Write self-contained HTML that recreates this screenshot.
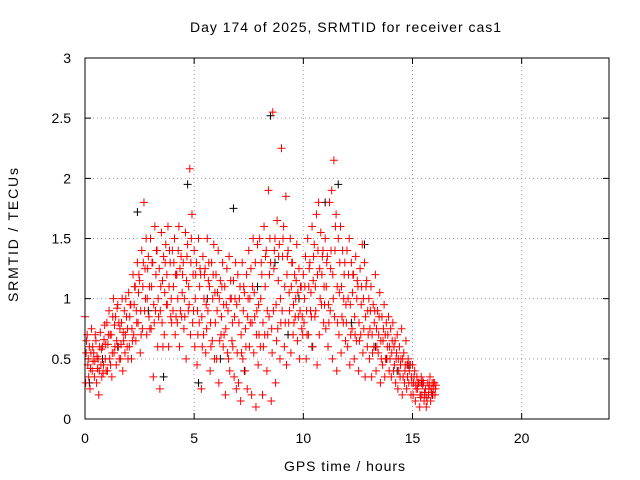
<!DOCTYPE html>
<html><head><meta charset="utf-8"><style>
html,body{margin:0;padding:0;background:#fff;}
svg{display:block;font-family:"Liberation Sans",Arial,sans-serif;}
</style></head><body>
<svg id="chart" width="640" height="480" viewBox="0 0 640 480">
<rect x="0" y="0" width="640" height="480" fill="#fff"/>
<text x="190" y="32" font-size="14" textLength="311" lengthAdjust="spacing">Day 174 of 2025, SRMTID for receiver cas1</text>
<text x="284" y="471" font-size="14" textLength="121" lengthAdjust="spacing">GPS time / hours</text>
<text transform="translate(18,302) rotate(-90)" font-size="14" textLength="134" lengthAdjust="spacing">SRMTID / TECUs</text>
<g id="grid"></g>
<g id="ticks"></g>
<g id="marks"></g>
<rect x="85" y="58" width="524" height="361" fill="none" stroke="#000" stroke-width="1"/>
</svg>
<script>
const xTicks = [0, 5, 10, 15, 20];
const yTicks = [0, 0.5, 1, 1.5, 2, 2.5, 3];
const yTickLabels = ["0", "0.5", "1", "1.5", "2", "2.5", "3"];
const times = [0,0.1,0.2,0.3,0.4,0.5,0.6,0.7,0.8,0.9,1,1.1,1.2,1.3,1.4,1.5,1.6,1.7,1.8,1.9,2,2.1,2.2,2.3,2.4,2.5,2.6,2.7,2.8,2.9,3,3.1,3.2,3.3,3.4,3.5,3.6,3.7,3.8,3.9,4,4.1,4.2,4.3,4.4,4.5,4.6,4.7,4.8,4.9,5,5.1,5.2,5.3,5.4,5.5,5.6,5.7,5.8,5.9,6,6.1,6.2,6.3,6.4,6.5,6.6,6.7,6.8,6.9,7,7.1,7.2,7.3,7.4,7.5,7.6,7.7,7.8,7.9,8,8.1,8.2,8.3,8.4,8.5,8.6,8.7,8.8,8.9,9,9.1,9.2,9.3,9.4,9.5,9.6,9.7,9.8,9.9,10,10.1,10.2,10.3,10.4,10.5,10.6,10.7,10.8,10.9,11,11.1,11.2,11.3,11.4,11.5,11.6,11.7,11.8,11.9,12,12.1,12.2,12.3,12.4,12.5,12.6,12.7,12.8,12.9,13,13.1,13.2,13.3,13.4,13.5,13.6,13.7,13.8,13.9,14,14.1,14.2,14.3,14.4,14.5,14.6,14.7,14.8,14.9,15,15.1,15.2,15.3,15.4,15.5,15.6,15.7,15.8,15.9,16];
const valsHigh = [0.85,0.7,0.6,0.75,0.55,0.65,0.5,0.72,0.6,0.78, 0.8,0.9,0.7,1.0,0.85,0.95,0.75,1.0,0.9,0.85, 1.05,0.95,1.2,1.1,1.3,1.15,1.4,1.8,1.5,1.35, 1.5,1.3,1.6,1.4,1.25,1.55,1.35,1.45,1.6,1.3, 1.4,1.5,1.2,1.6,1.35,1.3,1.55,1.45,2.08,1.7, 1.4,1.3,1.5,1.2,1.35,1.25,1.5,1.1,1.3,1.45, 1.2,1.4,1.15,1.3,1.1,1.25,1.35,1.0,1.15,1.3, 1.2,1.1,1.3,1.05,1.2,1.4,1.25,1.5,1.3,1.45, 1.5,1.2,1.6,1.4,1.9,1.3,2.55,1.5,1.65,1.45, 2.25,1.6,1.85,1.4,1.5,1.3,1.2,1.45,1.25,1.1, 1.2,1.35,1.5,1.3,1.6,1.45,1.7,1.8,1.55,1.4, 1.5,1.35,1.8,1.9,2.15,1.7,1.5,1.6,1.4,1.3, 1.4,1.5,1.3,1.2,1.35,1.1,1.25,1.45,1.3,1.15, 1.0,1.1,0.95,1.2,0.9,1.05,0.85,0.95,0.8,0.85, 0.75,0.8,0.65,0.7,0.6,0.75,0.55,0.65,0.5,0.45, 0.45,0.4,0.35,0.3,0.35,0.3,0.25,0.3,0.35,0.3, 0.3];
const valsMid = [0.55,0.5,0.42,0.6,0.48,0.52,0.4,0.58,0.45,0.62, 0.62,0.7,0.55,0.78,0.65,0.8,0.62,0.72,0.7,0.75, 0.85,0.75,0.95,0.9,1.05,0.9,1.1,1.25,1.0,1.1, 1.1,0.95,1.2,1.0,0.9,1.15,1.05,1.2,1.1,1.0, 1.1,1.2,1.0,1.25,1.05,1.0,1.15,1.1,1.3,1.2, 1.0,0.9,1.1,0.85,1.0,0.95,1.15,0.8,1.0,1.05, 0.9,1.0,0.85,0.95,0.75,0.9,1.0,0.8,0.85,0.95, 0.8,0.7,0.9,0.75,0.85,1.0,0.8,1.05,0.7,0.95, 1.0,0.8,1.1,0.9,1.2,0.75,1.25,0.95,1.15,1.0, 1.35,1.1,1.2,1.05,1.1,0.95,1.0,1.05,0.9,0.85, 1.0,0.9,1.1,1.05,1.15,1.1,1.2,1.25,1.2,1.1, 1.1,0.95,1.25,1.2,1.4,1.1,1.05,1.1,1.0,0.95, 1.0,0.95,1.05,0.85,1.0,0.8,0.95,1.0,0.85,0.9, 0.75,0.7,0.8,0.75,0.7,0.65,0.65,0.7,0.6,0.6, 0.55,0.6,0.5,0.5,0.45,0.5,0.4,0.45,0.4,0.35, 0.3,0.28,0.3,0.2,0.28,0.22,0.18,0.25,0.25,0.25, 0.25];
const valsLow = [0.3,0.45,0.25,0.4,0.35,0.3,0.2,0.45,0.38,0.5, 0.4,0.5,0.35,0.55,0.45,0.6,0.5,0.4,0.55,0.6, 0.6,0.5,0.7,0.65,0.8,0.55,0.75,0.9,0.7,0.85, 0.75,0.35,0.9,0.6,0.25,0.8,0.7,0.95,0.6,0.85, 0.9,0.7,0.8,0.6,0.85,0.75,0.5,0.9,0.7,0.8, 0.6,0.45,0.8,0.25,0.7,0.55,0.9,0.4,0.65,0.5, 0.5,0.3,0.7,0.6,0.2,0.55,0.4,0.65,0.35,0.25, 0.3,0.15,0.5,0.4,0.25,0.6,0.2,0.55,0.1,0.45, 0.6,0.2,0.7,0.4,0.85,0.15,0.9,0.3,0.75,0.5, 0.9,0.6,0.45,0.8,0.55,0.7,0.85,0.65,0.5,0.75, 0.8,0.5,0.7,0.9,0.6,0.85,0.45,0.7,0.95,0.8, 0.75,0.6,0.9,0.5,0.85,0.4,0.7,0.55,0.8,0.65, 0.6,0.45,0.75,0.5,0.65,0.4,0.7,0.55,0.35,0.6, 0.5,0.35,0.6,0.4,0.55,0.3,0.45,0.35,0.5,0.4, 0.35,0.4,0.3,0.25,0.35,0.2,0.3,0.25,0.3,0.2, 0.2,0.15,0.25,0.1,0.2,0.15,0.1,0.2,0.15,0.2, 0.2];
const valsExtra = [0.65,0.35,0.55,0.48,0.7,0.42,0.6,0.35,0.66,0.4, 0.7,0.45,0.85,0.6,0.92,0.5,0.8,0.65,1.0,0.5, 0.95,0.65,1.1,0.8,1.2,0.7,1.3,1.0,1.25,0.75, 1.3,0.8,1.4,0.85,1.1,0.6,1.3,0.95,1.4,0.8, 1.3,0.85,1.4,0.9,1.2,0.85,1.35,0.95,1.5,0.9, 1.2,0.7,1.25,0.6,1.2,0.75,1.3,0.6,1.2,0.8, 1.05,0.65,1.1,0.7,0.95,0.5,1.15,0.6,1.0,0.55, 1.0,0.55,1.1,0.6,1.0,0.8,1.1,0.85,0.9,0.7, 1.3,0.6,1.35,0.7,1.5,0.55,1.4,0.65,1.35,0.8, 1.5,0.8,1.35,0.9,1.3,0.8,1.15,0.85,1.1,0.7, 1.1,0.7,1.25,0.85,1.35,0.9,1.4,1.0,1.35,0.95, 1.3,0.8,1.4,1.0,1.6,0.8,1.3,0.85,1.2,0.8, 1.2,0.7,1.2,0.7,1.15,0.65,1.1,0.75,1.1,0.7, 0.9,0.55,0.9,0.6,0.85,0.5,0.75,0.5,0.7,0.5, 0.65,0.45,0.55,0.4,0.5,0.35,0.45,0.35,0.45,0.3, 0.35,0.25,0.3,0.18,0.32,0.2,0.15,0.28,0.22,0.3, 0.28];
const blackX = [0.2,0.8,1.5,2.4,2.9,3.6,4.2,4.7,5.2,5.6,6.2,6.8,7.3,7.9,8.5,8.7,9.3,9.8,10.4,11.0,11.6,12.2,12.8,13.3,13.8,14.3,14.8,15.4,15.9];
const blackY = [0.3,0.5,0.6,1.72,0.9,0.35,1.2,1.95,0.3,1.0,0.5,1.75,0.4,1.1,2.52,1.3,0.7,1.0,0.6,1.8,1.95,0.8,1.45,0.6,0.5,0.4,0.45,0.3,0.2];

const X0 = 85, X1 = 609, Y0 = 419, Y1 = 58;
const xScale = v => X0 + (v / 24) * (X1 - X0);
const yScale = v => Y0 - (v / 3) * (Y0 - Y1);
const NS = "http://www.w3.org/2000/svg";
const grid = document.getElementById('grid');
const ticks = document.getElementById('ticks');
const marks = document.getElementById('marks');
function mk(tag, attrs, parent) {
  const e = document.createElementNS(NS, tag);
  for (const k in attrs) e.setAttribute(k, attrs[k]);
  parent.appendChild(e);
  return e;
}
xTicks.forEach(t => {
  const x = xScale(t);
  if (t > 0) {
    const g = mk('line', {x1: x, y1: Y0, x2: x, y2: Y1, stroke: '#a0a0a0', 'stroke-dasharray': '1,3'}, grid);
    
    
  }
  const tk = mk('path', {d: `M${x},${Y0}v-6M${x},${Y1}v6`, stroke: '#000'}, ticks);
  
  
  const lb = mk('text', {x: x, y: 443, 'font-size': 14, 'text-anchor': 'middle'}, ticks);
  lb.textContent = String(t);
  
  
});
yTicks.forEach((t, i) => {
  const y = yScale(t);
  if (t > 0 && t < 3) {
    const g = mk('line', {x1: X0, y1: y, x2: X1, y2: y, stroke: '#a0a0a0', 'stroke-dasharray': '1,3'}, grid);
    
    
  }
  const tk = mk('path', {d: `M${X0},${y}h6M${X1},${y}h-6`, stroke: '#000'}, ticks);
  
  
  const lb = mk('text', {x: 71, y: y + 5, 'font-size': 14, 'text-anchor': 'end'}, ticks);
  lb.textContent = yTickLabels[i];
  
  
});
function plus(xv, yv, color, name) {
  const x = xScale(xv), y = yScale(yv);
  const p = mk('path', {d: `M${x-4},${y}h8M${x},${y-4}v8`, stroke: color, 'stroke-width': 1}, marks);
  
  
}
blackX.forEach((t, i) => plus(t, blackY[i], '#000', 'black-point'));
times.forEach((t, i) => {
  plus(t, valsHigh[i], '#ff0000', 'red-point');
  plus(t + 0.05, valsMid[i], '#ff0000', 'red-point');
  plus(t + 0.03, valsLow[i], '#ff0000', 'red-point');
  plus(t + 0.07, valsExtra[i], '#ff0000', 'red-point');
});
</script>
</body></html>
